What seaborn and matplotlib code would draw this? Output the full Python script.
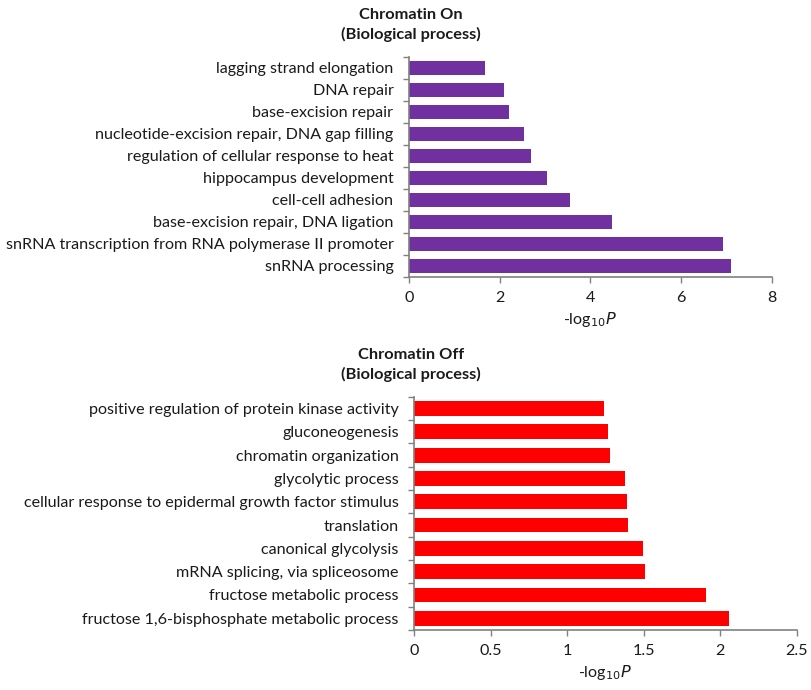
import numpy as np
import pandas as pd
import matplotlib
matplotlib.use("Agg")
import matplotlib.pyplot as plt
import seaborn as sns

# data (top to bottom)
on_terms = ["lagging strand elongation", "DNA repair", "base-excision repair",
            "nucleotide-excision repair, DNA gap filling",
            "regulation of cellular response to heat", "hippocampus development",
            "cell-cell adhesion", "base-excision repair, DNA ligation",
            "snRNA transcription from RNA polymerase II promoter", "snRNA processing"]
on_vals = [1.69, 2.10, 2.20, 2.54, 2.69, 3.05, 3.55, 4.47, 6.92, 7.09]

off_terms = ["positive regulation of protein kinase activity", "gluconeogenesis",
             "chromatin organization", "glycolytic process",
             "cellular response to epidermal growth factor stimulus", "translation",
             "canonical glycolysis", "mRNA splicing, via spliceosome",
             "fructose metabolic process", "fructose 1,6-bisphosphate metabolic process"]
off_vals = [1.24, 1.27, 1.28, 1.38, 1.39, 1.40, 1.495, 1.51, 1.906, 2.06]

sns.set_style("white")
plt.rcParams["font.family"] = ["Lato", "DejaVu Sans"]
txt = "#1a1a1a"
spine = "#808080"
fs = 11.6

fig = plt.figure(figsize=(8.11, 6.9), dpi=100)
ax1 = fig.add_axes([0.504, 0.5986, 0.448, 0.319])
ax2 = fig.add_axes([0.5105, 0.087, 0.472, 0.338])


def draw(ax, terms, vals, color, xmax, step):
    df = pd.DataFrame({"term": terms, "val": vals})
    sns.barplot(data=df, x="val", y="term", order=terms, color=color, saturation=1,
                width=0.64, orient="h", ax=ax, edgecolor="none")
    n = len(terms)
    ax.set_ylim(n - 0.5, -0.5)
    ax.set_xlim(0, xmax)
    ticks = np.arange(0, xmax + 0.001, step)
    ax.set_xticks(ticks)
    ax.set_xticklabels([f"{t:g}" for t in ticks])
    ax.set_yticks(np.arange(-0.5, n, 1.0), minor=True)
    ax.tick_params(axis="y", which="major", length=0, pad=11, labelsize=fs, colors=txt)
    ax.tick_params(axis="y", which="minor", length=4, width=1, color=spine, direction="out", left=True)
    ax.tick_params(axis="x", length=4, width=1, color=spine, direction="out", bottom=True,
                   labelsize=fs, colors=txt, pad=6)
    for s in ["top", "right"]:
        ax.spines[s].set_visible(False)
    for s in ["left", "bottom"]:
        ax.spines[s].set_color(spine)
        ax.spines[s].set_linewidth(1.2)
    ax.set_ylabel("")
    ax.set_xlabel(r"-log$_{10}$$\mathit{P}$", fontsize=fs, color=txt, labelpad=4)


draw(ax1, on_terms, on_vals, "#7030A0", 8, 2)
draw(ax2, off_terms, off_vals, "#FF0000", 2.5, 0.5)

for y, s in [(0.978, "Chromatin On"), (0.950, "(Biological process)"),
             (0.486, "Chromatin Off"), (0.457, "(Biological process)")]:
    fig.text(0.507, y, s, ha="center", va="center", fontsize=fs + 0.2,
             fontweight="bold", color=txt)

fig.savefig("out.png", dpi=100, facecolor="white")
